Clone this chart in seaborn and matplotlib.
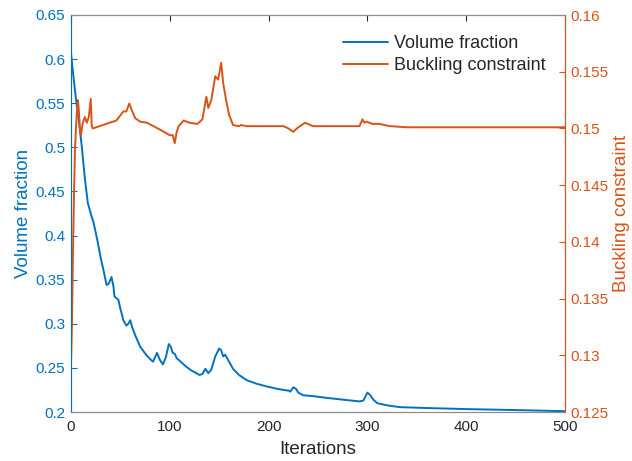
import matplotlib
matplotlib.use("Agg")
import matplotlib.pyplot as plt
import numpy as np
import pandas as pd
import seaborn as sns

# volume fraction (left axis)
vol_iter = [0, 2, 5, 8, 11, 14, 17, 20, 23, 27, 30, 33, 36, 38, 41, 43, 44, 46, 48, 50,
            53, 56, 58, 60, 62, 65, 70, 76, 80, 83, 87, 90, 93, 96, 99, 101, 103, 105,
            107, 112, 117, 122, 127, 130, 133, 136, 139, 142, 146, 150, 152, 154, 156,
            160, 164, 170, 178, 188, 198, 210, 221, 222, 225, 228, 230, 235, 245, 259,
            275, 292, 296, 300, 303, 306, 310, 320, 333, 360, 400, 450, 497, 500]
vol_vals = [0.607, 0.585, 0.555, 0.53, 0.5, 0.465, 0.437, 0.425, 0.414, 0.393, 0.375,
            0.36, 0.344, 0.345, 0.353, 0.342, 0.331, 0.329, 0.327, 0.317, 0.304, 0.298,
            0.300, 0.304, 0.296, 0.287, 0.274, 0.265, 0.26, 0.257, 0.267, 0.259, 0.254,
            0.262, 0.277, 0.274, 0.267, 0.266, 0.261, 0.256, 0.251, 0.247, 0.244, 0.242,
            0.243, 0.249, 0.244, 0.248, 0.263, 0.272, 0.27, 0.263, 0.265, 0.257, 0.249,
            0.242, 0.236, 0.232, 0.229, 0.226, 0.224, 0.223, 0.228, 0.226, 0.222, 0.219,
            0.218, 0.216, 0.214, 0.212, 0.213, 0.222, 0.219, 0.214, 0.210, 0.2075,
            0.2055, 0.2045, 0.2033, 0.2022, 0.201, 0.201]

# buckling constraint (right axis)
buck_iter = [0, 1, 2, 3, 4, 5, 6, 7, 8, 9, 10, 12, 14, 16, 18, 20, 21, 22, 46, 53, 56,
             59, 62, 65, 70, 77, 90, 100, 103, 105, 107, 109, 114, 120, 128, 133, 137,
             139, 142, 146, 149, 152, 154, 157, 160, 164, 170, 172, 178, 190, 200, 215,
             220, 225, 230, 237, 245, 260, 292, 295, 297, 299, 305, 312, 323, 340, 500]
buck_vals = [0.1293, 0.1330, 0.1390, 0.1440, 0.1480, 0.1500, 0.1515, 0.1525, 0.1515,
             0.1500, 0.1494, 0.1505, 0.1510, 0.1505, 0.1510, 0.1526, 0.1502, 0.1500,
             0.1507, 0.1515, 0.1515, 0.1522, 0.1515, 0.1509, 0.1506, 0.1505, 0.1499,
             0.1494, 0.1494, 0.1487, 0.1497, 0.1502, 0.1507, 0.1505, 0.1504, 0.1508,
             0.1528, 0.1518, 0.1525, 0.1546, 0.1543, 0.1558, 0.1540, 0.1525, 0.1512,
             0.1503, 0.1502, 0.1503, 0.1502, 0.1502, 0.1502, 0.1502, 0.1500, 0.1497,
             0.1501, 0.1505, 0.1502, 0.1502, 0.1502, 0.1508, 0.1505, 0.1506, 0.1504,
             0.1504, 0.1502, 0.1501, 0.1501]

x_ticks = [0, 100, 200, 300, 400, 500]
left_ticks = [0.2, 0.25, 0.3, 0.35, 0.4, 0.45, 0.5, 0.55, 0.6, 0.65]
right_ticks = [0.125, 0.13, 0.135, 0.14, 0.145, 0.15, 0.155, 0.16]

BLUE = "#0072BD"
ORANGE = "#D95319"
GRAY = "#262626"


def main():
    sns.set_style("white")
    plt.rcParams['font.family'] = ['Liberation Sans', 'DejaVu Sans']
    plt.rcParams['xtick.direction'] = 'in'
    plt.rcParams['ytick.direction'] = 'in'

    df_vol = pd.DataFrame({"Iterations": vol_iter, "Volume fraction": vol_vals})
    df_buck = pd.DataFrame({"Iterations": buck_iter, "Buckling constraint": buck_vals})

    fig = plt.figure(figsize=(6.32, 4.61), dpi=100)
    ax = fig.add_axes([71 / 632, 1 - 412 / 461, 494 / 632, 397 / 461])
    ax2 = ax.twinx()

    sns.lineplot(data=df_vol, x="Iterations", y="Volume fraction", ax=ax,
                 color=BLUE, lw=1.4, label="Volume fraction", legend=False)
    sns.lineplot(data=df_buck, x="Iterations", y="Buckling constraint", ax=ax2,
                 color=ORANGE, lw=1.4, label="Buckling constraint", legend=False)

    ax.set_xlim(0, 500)
    ax.set_ylim(0.2, 0.65)
    ax2.set_ylim(0.125, 0.16)
    ax.set_xticks(x_ticks)
    ax.set_yticks(left_ticks)
    ax.set_yticklabels([f"{v:g}" for v in left_ticks])
    ax2.set_yticks(right_ticks)
    ax2.set_yticklabels([f"{v:g}" for v in right_ticks])

    ax.tick_params(axis='x', colors=GRAY, labelsize=11, length=4, top=True, pad=6)
    ax.tick_params(axis='y', colors=BLUE, labelsize=11, length=4, pad=4)
    ax2.tick_params(axis='y', colors=ORANGE, labelsize=11, length=4, pad=4)

    ax.set_xlabel("Iterations", fontsize=13.5, color=GRAY, labelpad=5)
    ax.set_ylabel("Volume fraction", fontsize=13.5, color=BLUE, labelpad=3)
    ax2.set_ylabel("Buckling constraint", fontsize=13.5, color=ORANGE, labelpad=3)

    for a in (ax, ax2):
        for s in a.spines.values():
            s.set_linewidth(0.8)
            s.set_color("#8c8c8c")
    ax2.spines['left'].set_color(BLUE)
    ax2.spines['right'].set_color(ORANGE)

    h1, l1 = ax.get_legend_handles_labels()
    h2, l2 = ax2.get_legend_handles_labels()
    ax2.legend(h1 + h2, l1 + l2, loc="upper right", frameon=False, fontsize=13,
               handlelength=2.5, handletextpad=0.3, borderaxespad=0.7,
               labelspacing=0.3)

    fig.savefig("out.png", dpi=100)


if __name__ == "__main__":
    main()
